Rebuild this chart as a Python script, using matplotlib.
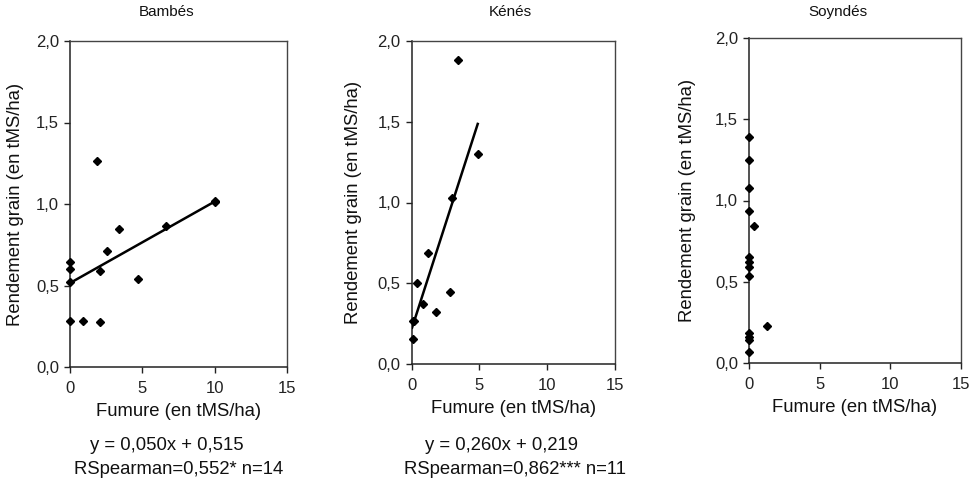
import matplotlib
matplotlib.use("Agg")
import matplotlib.pyplot as plt
import numpy as np

plt.rcParams['font.family'] = ['Liberation Sans', 'DejaVu Sans']

# Data
titles = ["Bambés", "Kénés", "Soyndés"]

bambes_x = [0, 0, 0, 0, 0.93, 2.09, 1.86, 2.09, 2.56, 3.37, 4.70, 6.67, 10.0, 10.0]
bambes_y = [0.644, 0.603, 0.521, 0.282, 0.280, 0.276, 1.262, 0.587, 0.710, 0.847, 0.542, 0.867, 1.012, 1.020]

kenes_x = [3.39, 4.87, 3.0, 1.23, 0.42, 0.81, 1.80, 2.83, 0.07, 0.07, 0.15]
kenes_y = [1.881, 1.30, 1.028, 0.686, 0.505, 0.373, 0.321, 0.447, 0.270, 0.157, 0.265]

soyndes_x = [0, 0, 0, 0, 0, 0, 0, 0, 0, 0, 0, 0, 0.38, 1.25]
soyndes_y = [1.39, 1.25, 1.08, 0.936, 0.654, 0.623, 0.592, 0.537, 0.181, 0.160, 0.140, 0.068, 0.843, 0.226]

# Regression lines: slope, intercept, x range
fits = [(0.050, 0.515, (0, 10)), (0.260, 0.219, (0, 4.9)), None]
eq_texts = ["y = 0,050x + 0,515", "y = 0,260x + 0,219", None]
stat_texts = ["RSpearman=0,552* n=14", "RSpearman=0,862*** n=11", None]

xticks = [0, 5, 10, 15]
yticks = [0.0, 0.5, 1.0, 1.5, 2.0]
yticklabels = ["0,0", "0,5", "1,0", "1,5", "2,0"]
xlabel = "Fumure (en tMS/ha)"
ylabel = "Rendement grain (en tMS/ha)"

W, H = 973, 484
fig = plt.figure(figsize=(W / 100, H / 100), dpi=100)

# axes boxes in pixels: left, right, top, bottom
boxes = [(70, 287, 41, 367), (411.7, 615, 40.7, 364.3), (749, 960.7, 38.3, 362.7)]
title_x = [167, 510, 838]
ylabel_x = [16, 353, 688]
eq_x = [167, 501]
stat_x = [179, 515.5]

data = [(bambes_x, bambes_y), (kenes_x, kenes_y), (soyndes_x, soyndes_y)]

for i, (l, r, t, b) in enumerate(boxes):
    ax = fig.add_axes([l / W, (H - b) / H, (r - l) / W, (b - t) / H])
    xs, ys = data[i]
    ax.plot(xs, ys, linestyle='none', marker='D', markersize=4.2, color='black', clip_on=False, zorder=5)
    if fits[i] is not None:
        s, c, (x0, x1) = fits[i]
        xx = np.array([x0, x1])
        ax.plot(xx, s * xx + c, color='black', lw=1.8, solid_capstyle='butt', zorder=4)
    ax.set_xlim(0, 15)
    ax.set_ylim(0, 2)
    ax.set_xticks(xticks)
    ax.set_xticklabels([str(v) for v in xticks])
    ax.set_yticks(yticks)
    ax.set_yticklabels(yticklabels)
    ax.tick_params(direction='out', length=4, width=1, labelsize=12, colors='#222222')
    ax.tick_params(axis='x', pad=6)
    ax.tick_params(axis='y', pad=4)
    for sp in ['left', 'bottom']:
        ax.spines[sp].set_color('#222222')
        ax.spines[sp].set_linewidth(1.1)
    for sp in ['top', 'right']:
        ax.spines[sp].set_color('#444444')
        ax.spines[sp].set_linewidth(1.0)
    ax.set_xlabel(xlabel, fontsize=13.3, labelpad=5, color='#111111')
    fig.text(ylabel_x[i] / W, 1 - ((t + b) / 2) / H, ylabel, rotation=90, fontsize=13.3,
             ha='center', va='center', color='#111111')
    fig.text(title_x[i] / W, 1 - 12 / H, titles[i], fontsize=11, ha='center', va='center', color='#111111')
    if eq_texts[i] is not None:
        fig.text(eq_x[i] / W, 1 - 445 / H, eq_texts[i], fontsize=13.3, ha='center', va='center', color='#111111')
        fig.text(stat_x[i] / W, 1 - 469 / H, stat_texts[i], fontsize=13.3, ha='center', va='center', color='#111111')

fig.savefig("out.png", dpi=100, facecolor='white')
